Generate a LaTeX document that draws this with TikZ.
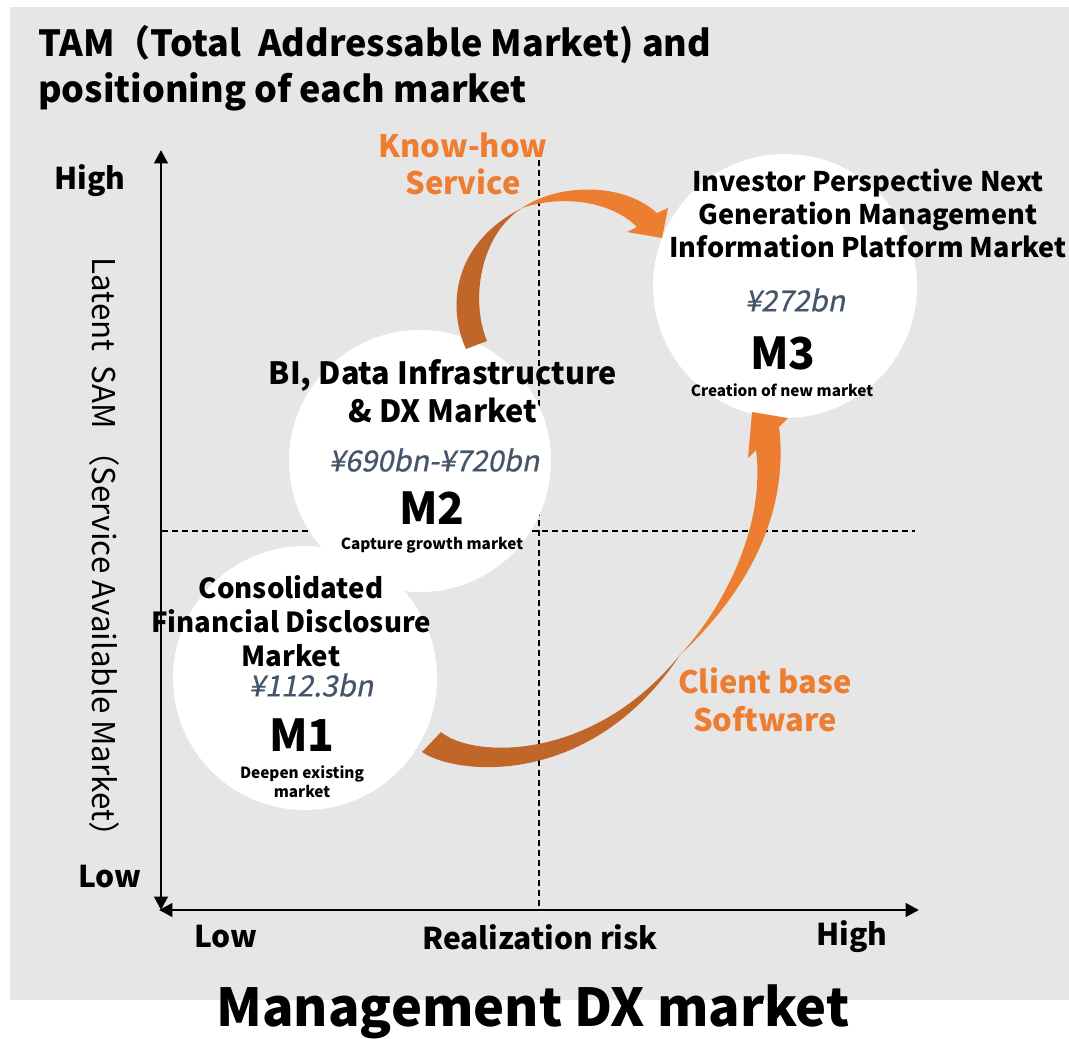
\documentclass[tikz,border=0pt]{standalone}
\usepackage{fontspec}
\setmainfont{Noto Sans CJK JP}
\newfontfamily\amtfont{Noto Sans CJK JP}[FakeSlant=0.2,FakeBold=0.6]
\usetikzlibrary{arrows.meta}
\definecolor{bggray}{RGB}{230,230,230}
\definecolor{orangeL}{RGB}{237,125,49}
\definecolor{orangeD}{RGB}{192,102,40}
\definecolor{slate}{RGB}{68,84,106}
\newcommand\fsz[2]{\fontsize{#1}{#2}\selectfont}
\tikzset{
  mcircle/.style={circle, fill=white, inner sep=0pt},
  dashline/.style={draw=black, line width=0.9pt, dash pattern=on 4.5pt off 3pt},
  axisline/.style={draw=black, line width=2.2pt, {Triangle[length=10pt,width=10pt]}-{Triangle[length=10pt,width=10pt]}},
  ttl/.style={font=\bfseries\fsz{27pt}{34.5pt}, align=left, inner sep=0pt},
  axlab/.style={font=\bfseries\fsz{22.5pt}{24pt}, inner sep=0pt},
  mkttitle/.style={font=\bfseries, align=center, inner sep=0pt},
  amount/.style={font=\amtfont\fsz{21.8pt}{24pt}, text=slate, inner sep=0pt},
  mlabel/.style={font=\bfseries\fsz{33pt}{36pt}, inner sep=0pt},
  small/.style={font=\bfseries\fsz{11.5pt}{14pt}, align=center, inner sep=0pt},
  orlab/.style={font=\bfseries\fsz{23.2pt}{28pt}, text=orangeL, align=center, inner sep=0pt}
}
\begin{document}
\begin{tikzpicture}[x=0.75pt,y=-0.75pt]
\useasboundingbox (0,0) rectangle (1069,1038);
\fill[bggray] (10,7) rectangle (1069,1000);

% title
\node[ttl, anchor=west] (title) at (38,68) {TAM（Total\ \ Addressable Market) and\\positioning of each market};

% dashed quadrant lines
\coordinate (vdTop) at (539,160);
\coordinate (vdBot) at (539,910);
\coordinate (hdL) at (162,531);
\coordinate (hdR) at (915,531);
\draw[dashline] (vdTop) -- (vdBot);
\draw[dashline] (hdL) -- (hdR);

% axes
\coordinate (yTop) at (161,150);
\coordinate (yBot) at (161,910);
\coordinate (xL) at (159,910);
\coordinate (xR) at (919,910);
\draw[axisline] (yBot) -- (yTop);
\draw[axisline] (xL) -- (xR);

% axis labels
\node[axlab] (yhigh) at (90,181) {High};
\node[axlab] (ylow) at (110,877) {Low};
\node[axlab] (xlow) at (226,937) {Low};
\node[axlab] (xmid) at (540,937) {Realization risk};
\node[axlab] (xhigh) at (852,937) {High};
\node[font=\fsz{23.5pt}{26pt}, rotate=-90, inner sep=0pt] (ylab) at (104,555) {Latent\ \ SAM （Service Available Market）};

% market circles
\node[mcircle, minimum size=198pt] (m3) at (785,286) {};
\node[mcircle, minimum size=196.5pt] (m2) at (420,461) {};
\node[mcircle, minimum size=198pt] (m1) at (305,678) {};

% arrow 1 (Know-how / Service): M2 -> M3
\fill[orangeD] (466,349) .. controls (448,310) and (450,245) .. (522,208)
  .. controls (480,235) and (470,300) .. (487,341) -- cycle;
\fill[orangeL] (522,208) .. controls (555,185) and (620,180) .. (657,213)
  -- (668,208) -- (662,238) -- (627,232) -- (637,227)
  .. controls (610,200) and (560,195) .. (522,208) -- cycle;

% arrow 2 (Client base / Software): M1 -> M3
\fill[orangeD] (422,752) .. controls (455,775) and (590,790) .. (680,655)
  .. controls (590,765) and (470,757) .. (441,732) -- cycle;
\fill[orangeL] (680,655) .. controls (730,600) and (765,520) .. (756,450)
  -- (748,458) -- (752,412) -- (788,418) -- (779,427)
  .. controls (788,500) and (760,580) .. (680,655) -- cycle;

% M3 texts
\node[mkttitle, font=\bfseries\fsz{20.3pt}{24.75pt}] (m3t) at (868,213) {Investor Perspective Next\\Generation Management\\Information Platform Market};
\node[amount] (m3a) at (795,300) {¥272bn};
\node[mlabel] (m3l) at (783,353) {M3};
\node[small] (m3s) at (782,390) {Creation of new market};

% M2 texts
\node[mkttitle, font=\bfseries\fsz{23pt}{28.5pt}] (m2t) at (443,391) {BI, Data Infrastructure\\\& DX Market};
\node[amount] (m2a) at (434,460) {¥690bn-¥720bn};
\node[mlabel] (m2l) at (432,508) {M2};
\node[small] (m2s) at (432,545) {Capture growth market};

% M1 texts
\node[mkttitle, font=\bfseries\fsz{20.7pt}{25.5pt}] (m1t) at (291,621) {Consolidated\\Financial Disclosure\\Market};
\node[amount] (m1a) at (311,685) {¥112.3bn};
\node[mlabel] (m1l) at (302,735) {M1};
\node[small] (m1s) at (302,782) {Deepen existing\\market};

% orange labels
\node[orlab] (kh) at (463,164) {Know-how\\Service};
\node[orlab] (cb) at (765,700) {Client base\\Software};

% bottom caption
\node[font=\bfseries\fsz{39.2pt}{44pt}, inner sep=0pt] (cap) at (533,1012) {Management DX market};
\end{tikzpicture}
\end{document}
